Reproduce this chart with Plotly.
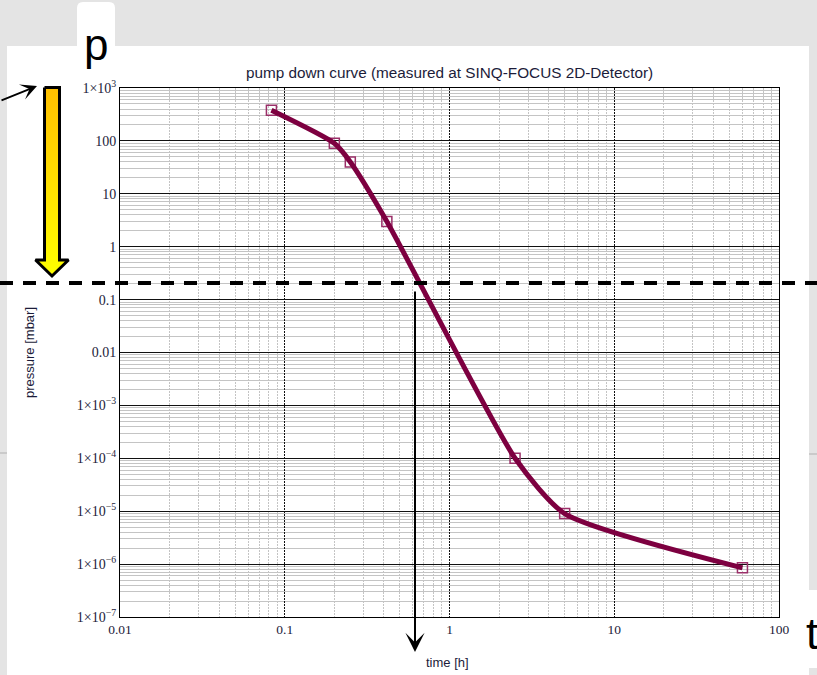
import plotly.graph_objects as go

# ---------------- data ----------------
time_h = [0.083, 0.2, 0.25, 0.4167, 2.5, 5.0, 60.0]
pressure_mbar = [380.0, 90.0, 40.0, 3.0, 1.0e-4, 9.0e-6, 8.5e-7]

x_tickvals = [0.01, 0.1, 1, 10, 100]
x_ticktext = ["0.01", "0.1", "1", "10", "100"]
y_tickvals = [1e3, 1e2, 1e1, 1, 0.1, 0.01, 1e-3, 1e-4, 1e-5, 1e-6, 1e-7]
y_ticktext = ["1×10<sup>3</sup>", "100", "10", "1", "0.1", "0.01",
              "1×10<sup>−3</sup>", "1×10<sup>−4</sup>", "1×10<sup>−5</sup>",
              "1×10<sup>−6</sup>", "1×10<sup>−7</sup>"]

title_text = "pump down curve (measured at SINQ-FOCUS 2D-Detector)"
x_title = "time [h]"
y_title = "pressure [mbar]"

# ---------------- geometry ----------------
W, H = 817, 675
PX0, PX1 = 120, 779
PY0, PY1 = 88, 617


def px(x):
    return x / W


def py(y):
    return 1 - y / H


minor_x = [k * 10.0 ** e for e in range(-2, 2) for k in range(2, 10)]
minor_y = [k * 10.0 ** e for e in range(-7, 3) for k in range(2, 10)]

CURVE = "#7d0040"
MARK = "#9a2f68"
TXT = "#1c1c3a"
SERIF = "Liberation Serif, Times New Roman, serif"
SANS = "Liberation Sans, Arial, sans-serif"

fig = go.Figure()

fig.add_trace(go.Scatter(
    x=time_h, y=pressure_mbar, mode="markers",
    marker=dict(symbol="square-open", size=10, color=MARK, line=dict(width=1.5, color=MARK)),
    hoverinfo="skip", showlegend=False))
fig.add_trace(go.Scatter(
    x=time_h, y=pressure_mbar, mode="lines",
    line=dict(color=CURVE, width=5, shape="spline", smoothing=0.6),
    showlegend=False))

# yellow gradient arrow (pixel-space helper axes)
arrow_x = [44.5, 59.5, 59.5, 68.5, 52.0, 35.5, 44.5, 44.5]
arrow_y = [87.5, 87.5, 260.0, 260.0, 276.0, 260.0, 260.0, 87.5]
fig.add_trace(go.Scatter(
    x=arrow_x, y=arrow_y, xaxis="x2", yaxis="y2", mode="lines",
    fill="toself",
    fillgradient=dict(type="vertical", colorscale=[[0, "#ffbf00"], [1, "#ffff00"]],
                      start=87, stop=276),
    line=dict(color="black", width=3),
    hoverinfo="skip", showlegend=False))

fig.update_layout(
    width=W, height=H, autosize=False,
    margin=dict(l=0, r=0, t=0, b=0, pad=0, autoexpand=False),
    paper_bgcolor="#e4e4e4",
    plot_bgcolor="rgba(0,0,0,0)",
    showlegend=False,
    xaxis=dict(
        type="log", range=[-2, 2], domain=[px(PX0), px(PX1)],
        tickmode="array", tickvals=x_tickvals, ticktext=x_ticktext,
        tickfont=dict(family=SERIF, size=13.5, color=TXT),
        ticks="", showgrid=True, gridcolor="#111111", gridwidth=1, griddash="2px,1px",
        minor=dict(tickmode="array", tickvals=minor_x, showgrid=True,
                   gridcolor="#c4c4c4", gridwidth=1, ticks=""),
        showline=True, mirror=True, linecolor="black", linewidth=1,
        zeroline=False, fixedrange=True, anchor="y", automargin=False,
    ),
    yaxis=dict(
        type="log", range=[-7, 3], domain=[py(PY1), py(PY0)],
        tickmode="array", tickvals=y_tickvals, ticktext=y_ticktext,
        tickfont=dict(family=SERIF, size=14, color=TXT),
        ticks="", showgrid=True, gridcolor="#111111", gridwidth=1,
        minor=dict(tickmode="array", tickvals=minor_y, showgrid=True,
                   gridcolor="#c4c4c4", gridwidth=1, ticks=""),
        showline=True, mirror=True, linecolor="black", linewidth=1,
        zeroline=False, fixedrange=True, anchor="x", automargin=False,
    ),
    xaxis2=dict(domain=[0, 1], range=[0, W], visible=False, anchor="y2",
                fixedrange=True, automargin=False),
    yaxis2=dict(domain=[0, 1], range=[H, 0], visible=False, anchor="x2",
                fixedrange=True, automargin=False),
)

# ---------------- background panels ----------------
def rect(x0, y0, x1, y1, color, layer="below"):
    fig.add_shape(type="rect", xref="paper", yref="paper",
                  x0=px(x0), x1=px(x1), y0=py(y1), y1=py(y0),
                  fillcolor=color, line=dict(width=0), layer=layer)


rect(7, 46, 809, 675, "white")
rect(809, 590, 817, 668, "white")
rect(0, 452, 7, 454, "#cacaca")
rect(809, 453, 817, 455, "#cacaca")

# "p" tab with rounded top corners
r = 6
tx0, tx1, ty0, ty1 = 77, 115, 2, 50
tab = (f"M {px(tx0)},{py(ty1)} L {px(tx0)},{py(ty0 + r)} "
       f"Q {px(tx0)},{py(ty0)} {px(tx0 + r)},{py(ty0)} "
       f"L {px(tx1 - r)},{py(ty0)} Q {px(tx1)},{py(ty0)} {px(tx1)},{py(ty0 + r)} "
       f"L {px(tx1)},{py(ty1)} Z")
fig.add_shape(type="path", xref="paper", yref="paper", path=tab,
              fillcolor="white", line=dict(width=0), layer="below")

# dashed threshold line
fig.add_shape(type="line", xref="paper", yref="paper",
              x0=0, x1=1, y0=py(283), y1=py(283),
              line=dict(color="black", width=4, dash="13px,10px"), layer="above")

# ---------------- texts ----------------
def label(text, x, y, size, family=SANS, color=TXT, xanchor="center", angle=0):
    fig.add_annotation(text=text, xref="paper", yref="paper",
                       x=px(x), y=py(y), xanchor=xanchor, yanchor="middle",
                       showarrow=False, textangle=angle, borderpad=0,
                       font=dict(family=family, size=size, color=color))


label(title_text, 449, 72, 15.3)
label(x_title, 448, 662, 13)
label(y_title, 29, 353, 13, angle=-90)
label("p", 96, 45, 44, color="black")
label("t", 805, 633, 44, color="black", xanchor="left")

# arrows
fig.add_annotation(text="", xref="paper", yref="paper",
                   x=px(415), y=py(652), ax=0, ay=-(652 - 290),
                   showarrow=True, arrowhead=3, arrowwidth=2, arrowsize=1.6,
                   arrowcolor="black", standoff=0)
fig.add_annotation(text="", xref="paper", yref="paper",
                   x=px(37), y=py(86), ax=-40, ay=15,
                   showarrow=True, arrowhead=3, arrowwidth=1.8, arrowsize=1.5,
                   arrowcolor="black", standoff=0)

fig.write_html(
    "out.html",
    config={"displayModeBar": False},
    post_script="document.body.style.margin='0';document.body.style.padding='0';"
                "document.body.style.overflow='hidden';",
)
